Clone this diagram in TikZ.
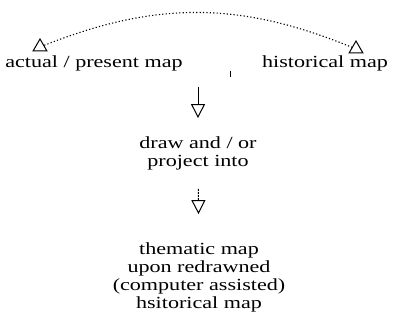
\documentclass[tikz,border=0pt]{standalone}
\usepackage{fontspec}
\setmainfont{Liberation Serif}[FakeStretch=1.3]
\usetikzlibrary{positioning, arrows.meta, shapes.geometric}

\begin{document}
\begin{tikzpicture}[
        x=1pt, y=-1pt,
        maplabel/.style={inner sep=0pt, align=center, font=\fontsize{17}{18}\selectfont},
        marker/.style={draw, regular polygon, regular polygon sides=3, minimum size=16pt, inner sep=0pt, line width=1pt},
        flow/.style={-{Triangle[open, length=14pt, width=14pt, line width=1pt]}, line width=1pt},
        link/.style={line width=1.1pt, dash pattern=on 1.2pt off 2.2pt}
    ]
    \useasboundingbox (0,0) rectangle (398,323);

    % --- Top row ---
    \node[maplabel, anchor=base] (actual) at (94, 68) {actual / present map};
    \node[maplabel, anchor=base] (historical) at (325, 68) {historical map};

    % --- Markers over the two maps ---
    \node[marker] (actualmark) at (40, 47) {};
    \node[marker] (historicalmark) at (356, 49) {};

    % --- Middle step ---
    \node[maplabel] (project) at (198, 153) {draw and / or\\project into};

    % --- Result ---
    \node[maplabel] (thematic) at (199, 277) {thematic map\\upon redrawned\\(computer assisted)\\hsitorical map};

    % --- Helper points ---
    \coordinate (join) at (198, 87);
    \coordinate (ticktop) at (230, 71);
    \coordinate (tickbot) at (230, 77);

    % --- Arrows ---
    \draw[link] (actualmark) to[bend left=22] (historicalmark);
    \draw[line width=0.6pt] (ticktop) -- (tickbot);
    \draw[flow, shorten >=18pt] (join) -- (project);
    \draw[flow, dash pattern=on 2pt off 1pt, shorten <=19pt, shorten >=28pt] (project) -- (thematic);

\end{tikzpicture}
\end{document}
